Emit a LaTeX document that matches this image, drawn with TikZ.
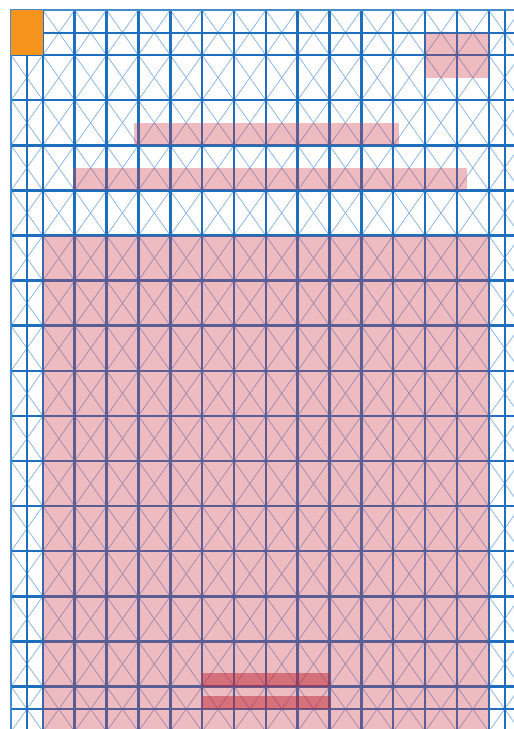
\documentclass[tikz,border=0pt]{standalone}
\definecolor{gridblue}{RGB}{30,112,190}
\definecolor{borderblue}{RGB}{70,140,205}
\definecolor{diagblue}{RGB}{130,176,224}
\definecolor{orangefill}{RGB}{247,148,30}
\definecolor{pinkfill}{RGB}{205,60,75}
\definecolor{darkpink}{RGB}{190,40,55}
\tikzset{
  diag/.style={draw=diagblue, line width=0.7pt},
  gridline/.style={draw=gridblue, line width=2.5pt},
  halfline/.style={draw=gridblue, line width=2pt},
  borderline/.style={draw=borderblue, line width=2.5pt},
  overlay/.style={fill=pinkfill, fill opacity=0.35},
  darkoverlay/.style={fill=darkpink, fill opacity=0.5},
  corner/.style={fill=orangefill}
}
\begin{document}
\begin{tikzpicture}[x=1pt,y=-1pt]
\def\W{31.85}
\def\H{45.1}
\useasboundingbox (0,0) rectangle (514,729);
\clip (0,0) rectangle (514,729);
% diagonals
\foreach \i in {0,...,15}{
  \foreach \j in {0,...,15}{
    \draw[diag] (11+\i*\W, 10+\j*\H) -- ++(\W,\H);
    \draw[diag] (11+\i*\W+\W, 10+\j*\H) -- ++(-\W,\H);
  }
}
% half lines
\draw[halfline] (11+0.5*\W,10) -- (11+0.5*\W,735);
\draw[halfline] (11+15.5*\W,10) -- (11+15.5*\W,735);
\draw[halfline] (11,10+0.5*\H) -- (520,10+0.5*\H);
\draw[halfline] (11,10+15.5*\H) -- (520,10+15.5*\H);
% main grid
\foreach \k in {1,...,16}{
  \draw[gridline] (11+\k*\W,10) -- (11+\k*\W,735);
  \draw[gridline] (11,10+\k*\H) -- (520,10+\k*\H);
}
\draw[borderline] (11,735) -- (11,10) -- (520,10);
% orange corner
\fill[corner] (11,10) rectangle (11+\W,10+\H);
% pink overlays
\fill[overlay] (11+13*\W,10+0.5*\H) rectangle (11+15*\W,10+1.5*\H);
\fill[overlay] (133.5,10+2.5*\H) rectangle (399,10+3*\H);
\fill[overlay] (72.7,10+3.5*\H) rectangle (466.7,10+4*\H);
\fill[overlay] (11+\W,10+5*\H) rectangle (11+15*\W,735);
\fill[darkoverlay] (11+6*\W,10+14.7*\H) rectangle (11+10*\W,10+15*\H);
\fill[darkoverlay] (11+6*\W,10+15.2*\H) rectangle (11+10*\W,10+15.5*\H);
\end{tikzpicture}
\end{document}
